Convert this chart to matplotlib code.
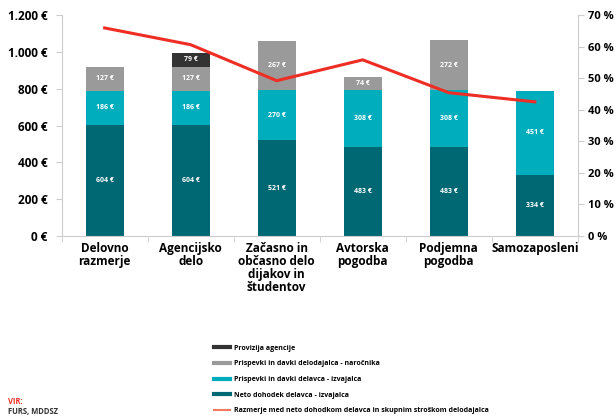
import numpy as np
import matplotlib.pyplot as plt
from matplotlib.lines import Line2D

plt.rcParams['font.family'] = ['Open Sans', 'DejaVu Sans']

categories = ['Delovno\nrazmerje', 'Agencijsko\ndelo', 'Začasno in\nobčasno delo\ndijakov in\nštudentov',
              'Avtorska\npogodba', 'Podjemna\npogodba', 'Samozaposleni']
neto = [604, 604, 521, 483, 483, 334]
prispevki_delavca = [186, 186, 270, 308, 308, 451]
prispevki_delodajalca = [127, 127, 267, 74, 272, 0]
provizija = [0, 79, 0, 0, 0, 0]
razmerje = [65.9, 60.6, 49.2, 55.8, 45.4, 42.5]

c_neto = '#006872'
c_del = '#00adbd'
c_dd = '#9a9a9a'
c_prov = '#333333'
c_line = '#ee2e24'

fig = plt.figure(figsize=(6.16, 4.17), dpi=100)
ax = fig.add_axes([0.1, 0.434, 0.838, 0.53])
x = np.arange(len(categories))
w = 0.44

bottom = np.zeros(len(x))
for vals, col in [(neto, c_neto), (prispevki_delavca, c_del),
                  (prispevki_delodajalca, c_dd), (provizija, c_prov)]:
    ax.bar(x, vals, w, bottom=bottom, color=col, zorder=2)
    for xi, v, b in zip(x, vals, bottom):
        if v > 0:
            ax.text(xi, b + v / 2, f'{v} €', ha='center', va='center',
                    color='white', fontsize=5, fontweight='bold', zorder=3)
    bottom += np.array(vals)

ax.set_xlim(-0.5, 5.5)
ax.set_ylim(0, 1200)
ax.set_yticks(range(0, 1201, 200))
ax.set_yticklabels([f'{v:,} €'.replace(',', '.') for v in range(0, 1201, 200)],
                   fontsize=8.5, fontweight='bold')
ax.set_xticks(x)
ax.set_xticklabels(categories, fontsize=8.5, fontweight='bold', linespacing=1.0)
ax.set_xticks(np.arange(-0.5, 6, 1), minor=True)
ax.tick_params(axis='x', which='major', length=0, pad=4)
ax.tick_params(axis='x', which='minor', length=4, color='#cccccc')
ax.tick_params(axis='y', length=4, color='#cccccc', pad=6)
for s in ['top', 'right']:
    ax.spines[s].set_visible(False)
for s in ['left', 'bottom']:
    ax.spines[s].set_color('#cccccc')

ax2 = ax.twinx()
ax2.plot(x, razmerje, color=c_line, lw=2.2, zorder=4)
ax2.set_ylim(0, 70)
ax2.set_yticks(range(0, 71, 10))
ax2.set_yticklabels([f'{v} %' for v in range(0, 71, 10)], fontsize=8, fontweight='bold')
ax2.tick_params(axis='y', length=4, color='#cccccc', pad=3)
for s in ['top', 'left', 'bottom']:
    ax2.spines[s].set_visible(False)
ax2.spines['right'].set_color('#cccccc')

handles = [Line2D([], [], color=c_prov, lw=3),
           Line2D([], [], color=c_dd, lw=3),
           Line2D([], [], color=c_del, lw=3),
           Line2D([], [], color=c_neto, lw=3),
           Line2D([], [], color='#f47a60', lw=1.5)]
labels = ['Provizija agencije',
          'Prispevki in davki delodajalca - naročnika',
          'Prispevki in davki delavca - izvajalca',
          'Neto dohodek delavca - izvajalca',
          'Razmerje med neto dohodkom delavca in skupnim stroškom delodajalca']
fig.legend(handles, labels, loc='upper left', bbox_to_anchor=(0.34, 0.185),
           frameon=False, handlelength=2.2, labelspacing=1.25, borderpad=0.2,
           handletextpad=0.6, prop={'weight': 'bold', 'size': 5})

fig.text(0.013, 0.03, 'VIR:', color=c_line, fontsize=5.5, fontweight='bold')
fig.text(0.013, 0.008, 'FURS, MDDSZ', color='#333333', fontsize=5.5, fontweight='bold')

fig.savefig('out.png', dpi=100)
